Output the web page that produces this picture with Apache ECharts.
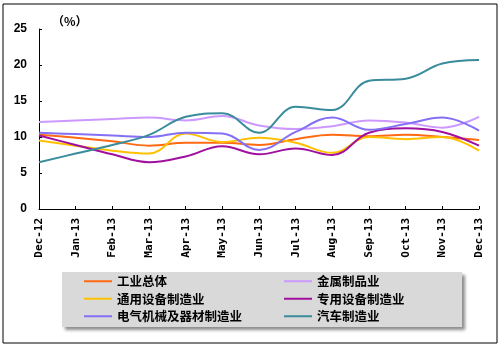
<!DOCTYPE html>
<html>
<head>
<meta charset="utf-8">
<script src="https://cdn.jsdelivr.net/npm/echarts@6/dist/echarts.min.js"></script>
<style>html,body{margin:0;padding:0;background:#fff;}#c{width:500px;height:346px;}</style>
</head>
<body>
<div id="c"></div>
<script>
var categories = ['Dec-12','Jan-13','Feb-13','Mar-13','Apr-13','May-13','Jun-13','Jul-13','Aug-13','Sep-13','Oct-13','Nov-13','Dec-13'];
var yTicks = [0, 5, 10, 15, 20, 25];
var industry  = [10.3, 9.9, 9.4, 8.8, 9.2, 9.2, 8.9, 9.7, 10.3, 10.1, 10.3, 10.0, 9.6];   // 工业总体
var metal     = [12.1, 12.3, 12.5, 12.7, 12.3, 12.9, 11.6, 11.1, 11.5, 12.3, 12.0, 11.3, 12.8]; // 金属制品业
var general   = [9.5, 8.8, 8.1, 7.7, 10.5, 9.3, 9.9, 9.2, 7.8, 10.0, 9.7, 10.0, 8.1];      // 通用设备制造业
var special   = [10.2, 8.9, 7.6, 6.5, 7.3, 8.7, 7.6, 8.4, 7.5, 10.6, 11.2, 10.7, 8.8];     // 专用设备制造业
var electric  = [10.6, 10.4, 10.2, 10.0, 10.6, 10.5, 8.2, 10.7, 12.7, 11.0, 11.8, 12.7, 10.9]; // 电气机械及器材制造业
var auto      = [6.5, 7.7, 8.9, 10.3, 12.8, 13.3, 10.6, 14.2, 13.75, 17.8, 18.1, 20.2, 20.7]; // 汽车制造业
var names = ['工业总体','金属制品业','通用设备制造业','专用设备制造业','电气机械及器材制造业','汽车制造业'];
var colors = ['#FF6A13','#CC99FF','#FFC000','#A0109F','#8470F5','#3A8C9C'];
var dataSets = [industry, metal, general, special, electric, auto];

var chart = echarts.init(document.getElementById('c'));
var series = names.map(function(n, i){
  return {name:n, type:'line', data:dataSets[i], smooth:0.4, showSymbol:false,
    lineStyle:{width:2, color:colors[i]}, itemStyle:{color:colors[i]}};
});
var legendText = {fontFamily:'Noto Sans CJK SC', fontWeight:'bold', fontSize:12.5, color:'#000'};
chart.setOption({
  animation:false,
  backgroundColor:'#fff',
  color:colors,
  grid:{left:39, right:21, top:29, bottom:137},
  graphic:[
    {type:'rect', z:-10, shape:{x:3, y:4, width:494, height:339}, style:{fill:'none', stroke:'#000', lineWidth:1}},
    {type:'rect', z:-5, shape:{x:62, y:272, width:400, height:55},
      style:{fill:'#D9D9D9', shadowBlur:3, shadowOffsetX:3, shadowOffsetY:3, shadowColor:'rgba(0,0,0,0.45)'}},
    {type:'text', left:52, top:15, style:{text:'（%）', font:'bold 12px "Noto Sans CJK SC"', fill:'#000'}}
  ],
  legend:[
    {data:[names[0],names[2],names[4]], orient:'vertical', left:84, top:275, padding:0, itemWidth:28, itemHeight:2, itemGap:5,
      icon:'rect', textStyle:legendText},
    {data:[names[1],names[3],names[5]], orient:'vertical', left:284, top:275, padding:0, itemWidth:28, itemHeight:2, itemGap:5,
      icon:'rect', textStyle:legendText}
  ],
  xAxis:{type:'category', data:categories, boundaryGap:false,
    axisLine:{lineStyle:{color:'#000', width:1}},
    axisTick:{inside:true, length:3, lineStyle:{color:'#000'}},
    axisLabel:{interval:0, rotate:90, margin:9, color:'#000', fontFamily:'DejaVu Sans Mono', fontWeight:'bold', fontSize:11}},
  yAxis:{type:'value', min:yTicks[0], max:yTicks[yTicks.length-1], interval:yTicks[1]-yTicks[0],
    axisLine:{show:true, lineStyle:{color:'#000', width:1}},
    axisTick:{show:true, inside:true, length:3, lineStyle:{color:'#000'}},
    splitLine:{show:false},
    axisLabel:{margin:12, color:'#000', fontFamily:'Liberation Sans', fontWeight:'bold', fontSize:12}},
  series:series
});
</script>
</body>
</html>
